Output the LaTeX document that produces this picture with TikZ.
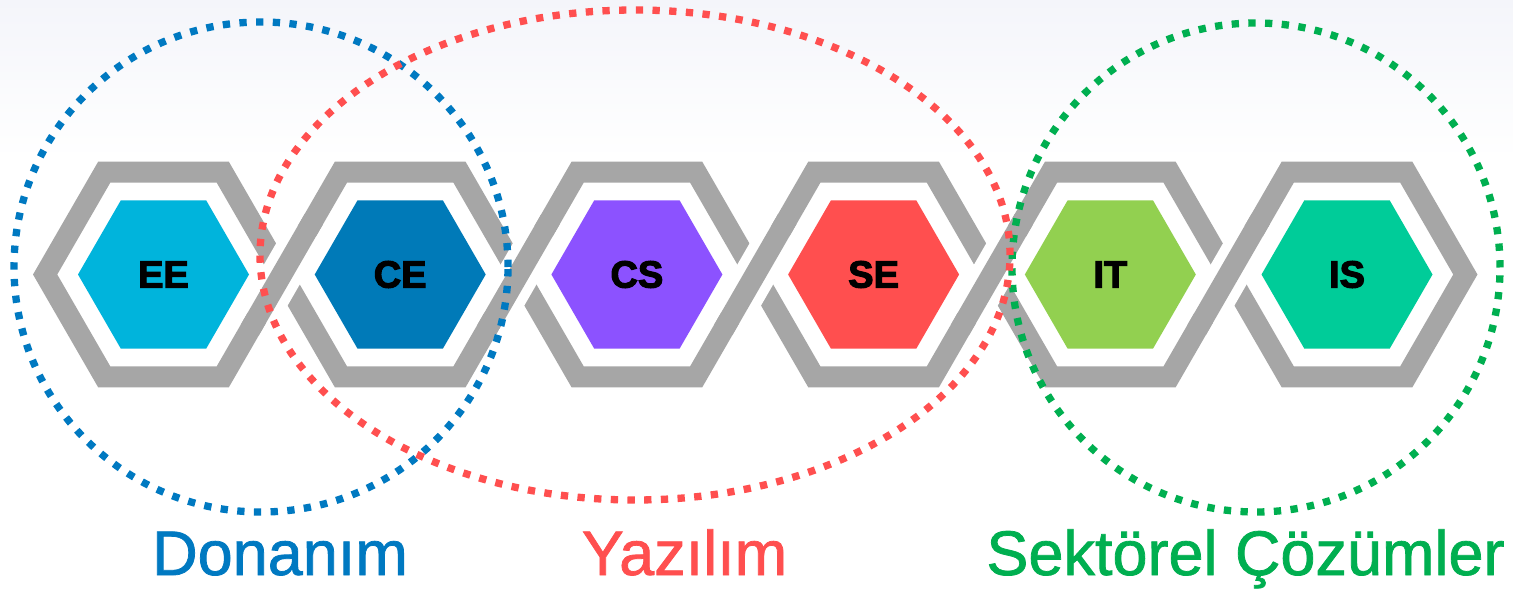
\documentclass[tikz,border=0pt]{standalone}
\usepackage{fontspec}
\setmainfont{Liberation Sans}
\newfontfamily\heavyfont{Liberation Sans Bold}[FakeBold=3]
\newfontfamily\groupfont{Liberation Sans}[FakeBold=1.2]
\usetikzlibrary{positioning,shapes.geometric,calc}
\definecolor{skytop}{HTML}{F4F5FA}
\definecolor{framegray}{HTML}{A6A6A6}
\definecolor{eefill}{HTML}{00B4DC}
\definecolor{cefill}{HTML}{007AB8}
\definecolor{csfill}{HTML}{8C52FF}
\definecolor{sefill}{HTML}{FF4F4F}
\definecolor{itfill}{HTML}{92D050}
\definecolor{isfill}{HTML}{00CC99}
\definecolor{ringblue}{HTML}{0079C1}
\definecolor{ringred}{HTML}{FF4F4F}
\definecolor{ringgreen}{HTML}{00AF50}
\tikzset{
  cell/.style={regular polygon,regular polygon sides=6,minimum size=85.5pt,inner sep=0pt,font=\heavyfont\fontsize{19}{19}\selectfont},
  frame/.style={draw=framegray,line width=10.5pt,line join=miter},
  gap/.style={draw=white,line width=20.5pt},
  ring/.style={line width=3.65pt,dash pattern=on 3.65pt off 4.7pt},
  group/.style={anchor=base,font=\groupfont\fontsize{31.5}{31.5}\selectfont}
}
\begin{document}
\begin{tikzpicture}[x=0.5pt,y=0.5pt,node distance=118.35pt]
  \useasboundingbox (0,0) rectangle (1513,589);
  \fill[white] (0,0) rectangle (1513,589);
  \shade[top color=skytop,bottom color=white] (0,430) rectangle (1513,589);
  \node[cell,fill=eefill] (ee) at (163.5,314.5) {EE};
  \node[cell,fill=cefill,right of=ee] (ce) {CE};
  \node[cell,fill=csfill,right of=ce] (cs) {CS};
  \node[cell,fill=sefill,right of=cs] (se) {SE};
  \node[cell,fill=itfill,right of=se] (it) {IT};
  \node[cell,fill=isfill,right of=it] (is) {IS};
  \foreach \n in {ee,ce,cs,se,it,is}
    \draw[frame] (\n.center) ++(0:118.35) -- ++(120:118.35) -- ++(180:118.35)
      -- ++(240:118.35) -- ++(300:118.35) -- ++(0:118.35) -- cycle;
  \foreach \a/\b in {ee/ce,ce/cs,cs/se,se/it,it/is} {
    \coordinate (\a\b) at ($(\a.center)!0.5!(\b.center)$);
    \draw[gap] ([shift={(240:50)}]\a\b) -- ([shift={(60:50)}]\a\b);
    \draw[frame] ([shift={(240:64)}]\a\b) -- ([shift={(60:64)}]\a\b);
  }
  \draw[ring,ringblue] (261,322) ellipse [x radius=247,y radius=245];
  \draw[ring,ringgreen] (1256,321.5) ellipse [x radius=244,y radius=244.5];
  \draw[ring,ringred] (635,334) ellipse [x radius=375,y radius=245];
  \node[group,text=ringblue] (hw) at (280,14) {Donanım};
  \node[group,text=ringred] (sw) at (684.5,14) {Yazılım};
  \node[group,text=ringgreen] (sector) at (1245.5,14) {Sektörel Çözümler};
\end{tikzpicture}
\end{document}
